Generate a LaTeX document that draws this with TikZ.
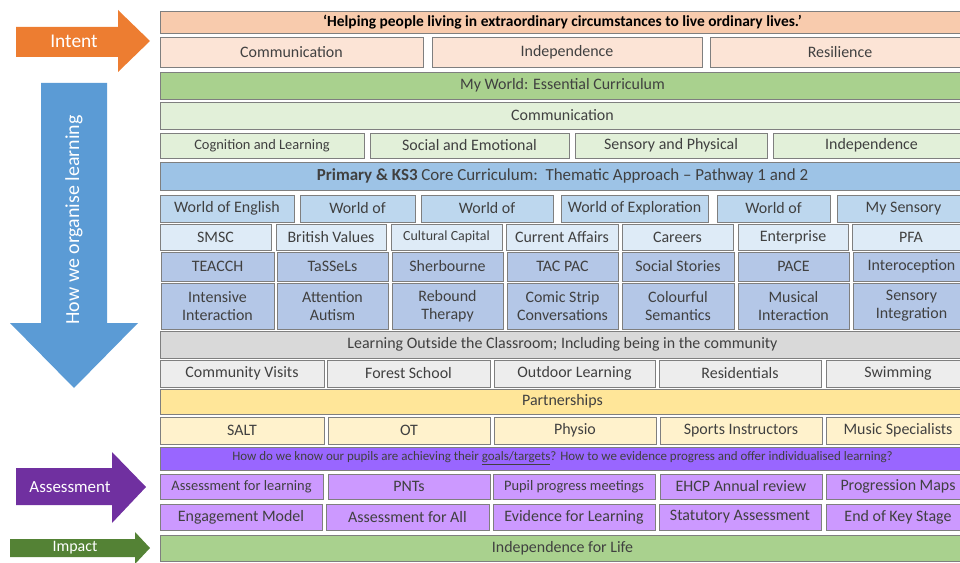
\documentclass[tikz,border=0pt]{standalone}
\usepackage{fontspec}
\setmainfont{Carlito}
\usetikzlibrary{positioning}

\definecolor{peach}{HTML}{F8CBAD}
\definecolor{peachL}{HTML}{FCE4D6}
\definecolor{greenD}{HTML}{A9D18E}
\definecolor{greenL}{HTML}{E2F0D9}
\definecolor{blueD}{HTML}{9DC3E6}
\definecolor{blueM}{HTML}{BDD7EE}
\definecolor{blueL}{HTML}{DEEBF7}
\definecolor{blueA}{HTML}{B4C7E7}
\definecolor{greyD}{HTML}{D9D9D9}
\definecolor{greyL}{HTML}{EDEDED}
\definecolor{goldD}{HTML}{FFE699}
\definecolor{goldL}{HTML}{FFF2CC}
\definecolor{violetD}{HTML}{9966FF}
\definecolor{violetL}{HTML}{CC99FF}
\definecolor{intentC}{HTML}{ED7D31}
\definecolor{organC}{HTML}{5B9BD5}
\definecolor{assessC}{HTML}{7030A0}
\definecolor{impactC}{HTML}{548235}
\definecolor{edge}{HTML}{7F7F7F}
\definecolor{ink}{HTML}{404040}

\begin{document}
\begin{tikzpicture}[x=1bp, y=-1bp,
	box/.style={draw=edge, line width=0.9bp, inner sep=1bp, outer sep=0pt, align=center, text=ink, font=\fontsize{16}{18}\selectfont},
	band/.style={box, anchor=north west, minimum width=805bp},
	smalltext/.style={font=\fontsize{14.5}{16}\selectfont},
	tinytext/.style={font=\fontsize{13}{15}\selectfont},
	arrowtext/.style={text=white, font=\fontsize{19.5}{22}\selectfont},
	intentbox/.style={box, fill=peachL, minimum height=30bp},
	need/.style={box, fill=greenL, minimum height=25bp},
	world/.style={box, fill=blueM, minimum height=27bp},
	thread/.style={box, fill=blueL, minimum height=26bp},
	appr/.style={box, fill=blueA, minimum height=29bp},
	visit/.style={box, fill=greyL, minimum height=27bp},
	partner/.style={box, fill=goldL, minimum height=27bp},
	assess/.style={box, fill=violetL, minimum height=25bp},
]
\useasboundingbox (0,0) rectangle (960,563);

% arrows on the left
\fill[intentC] (16,27) -- (118,27) -- (118,10) -- (150,41) -- (118,72) -- (118,57) -- (16,57) -- cycle;
\node[arrowtext] (intent) at (74,41) {Intent};
\fill[organC] (41,83) -- (107,83) -- (107,323) -- (138,323) -- (74,388) -- (10,323) -- (41,323) -- cycle;
\node[arrowtext, rotate=90, font=\fontsize{20}{22}\selectfont] (organise) at (74,220) {How we organise learning};
\fill[assessC] (16,468) -- (112,468) -- (112,452) -- (146,487) -- (112,523) -- (112,505) -- (16,505) -- cycle;
\node[arrowtext, font=\fontsize{17}{20}\selectfont] (assessment) at (70,487) {Assessment};
\fill[impactC] (10,539) -- (135,539) -- (135,532) -- (150,548) -- (135,564) -- (135,557) -- (10,557) -- cycle;
\node[arrowtext, font=\fontsize{16}{19}\selectfont] (impact) at (75,548) {Impact};

% intent
\node[band, fill=peach, minimum height=22bp, text=black, font=\bfseries\fontsize{15.5}{17}\selectfont] (quote) at (160,11) {`Helping people living in extraordinary circumstances to live ordinary lives.'};
\node[intentbox, minimum width=263bp, anchor=north west]	(comm)		at (160,37)	{Communication};
\node[intentbox, minimum width=270bp, right=9bp of comm]	(indep)					{Independence};
\node[intentbox, minimum width=260bp, right=8bp of indep]	(resil)					{Resilience};

% essential curriculum
\node[band, fill=greenD, minimum height=27bp]	(myworld)	at (160,72)		{My World: Essential Curriculum};
\node[band, fill=greenL, minimum height=27bp]	(commcur)	at (160,102)	{Communication};
\node[need, smalltext, minimum width=204bp, anchor=north west]	(cogn)	at (160,133)	{Cognition and Learning};
\node[need, minimum width=199bp, right=6bp of cogn]		(semh)		{Social and Emotional};
\node[need, minimum width=192bp, right=6bp of semh]		(sens)		{Sensory and Physical};
\node[need, minimum width=197bp, right=6bp of sens]		(indcur)	{Independence};

% core curriculum
\node[band, fill=blueD, minimum height=28bp, font=\fontsize{17}{19}\selectfont] (core) at (160,162) {\textbf{Primary \& KS3} Core Curriculum:\ \ Thematic Approach -- Pathway 1 and 2};
\node[world, minimum width=134bp, anchor=north west]	(woEng)	at (160,195)	{World of English};
\node[world, minimum width=115bp, right=6bp of woEng]	(woB)		{World of};
\node[world, minimum width=132bp, right=6bp of woB]		(woC)		{World of};
\node[world, minimum width=147bp, right=8bp of woC]		(woExp)		{World of Exploration};
\node[world, minimum width=113bp, right=9bp of woExp]	(woE)		{World of};
\node[world, minimum width=133bp, right=7bp of woE]		(mySens)	{My Sensory};

\node[thread, minimum width=111bp, anchor=north west]	(smsc)	at (160,224)	{SMSC};
\node[thread, minimum width=110bp, right=5bp of smsc]	(brit)		{British Values};
\node[thread, font=\fontsize{14}{16}\selectfont, minimum width=111bp, right=5bp of brit]	(cult)	{Cultural Capital};
\node[thread, minimum width=112bp, right=4bp of cult]	(curr)		{Current Affairs};
\node[thread, minimum width=111bp, right=4bp of curr]	(care)		{Careers};
\node[thread, minimum width=110bp, right=5bp of care]	(entr)		{Enterprise};
\node[thread, minimum width=118bp, right=4bp of entr]	(pfa)		{PFA};

\node[appr, minimum width=113bp, anchor=north west]	(teacch)	at (161,252)	{TEACCH};
\node[appr, minimum width=111bp, right=3bp of teacch]	(tassels)	{TaSSeLs};
\node[appr, minimum width=111bp, right=4bp of tassels]	(sherb)		{Sherbourne};
\node[appr, minimum width=111bp, right=4bp of sherb]	(tacpac)	{TAC PAC};
\node[appr, minimum width=112bp, right=4bp of tacpac]	(social)	{Social Stories};
\node[appr, minimum width=111bp, right=4bp of social]	(pace)		{PACE};
\node[appr, minimum width=117bp, right=4bp of pace]		(intero)	{Interoception};

\node[appr, minimum width=113bp, minimum height=46bp, below=2bp of teacch]	(intens)	{Intensive\\Interaction};
\node[appr, minimum width=111bp, minimum height=46bp, below=2bp of tassels]	(attn)		{Attention\\Autism};
\node[appr, minimum width=111bp, minimum height=46bp, below=2bp of sherb]	(rebound)	{Rebound\\Therapy};
\node[appr, minimum width=111bp, minimum height=46bp, below=2bp of tacpac]	(comic)		{Comic Strip\\Conversations};
\node[appr, minimum width=112bp, minimum height=46bp, below=2bp of social]	(colour)	{Colourful\\Semantics};
\node[appr, minimum width=111bp, minimum height=46bp, below=2bp of pace]	(musical)	{Musical\\Interaction};
\node[appr, minimum width=117bp, minimum height=46bp, below=2bp of intero]	(sensint)	{Sensory\\Integration};

% learning outside the classroom
\node[band, fill=greyD, minimum height=27bp]	(lotc)	at (160,331)	{Learning Outside the Classroom; Including being in the community};
\node[visit, minimum width=164bp, anchor=north west]	(commvis)	at (160,360)	{Community Visits};
\node[visit, minimum width=163bp, right=3bp of commvis]	(forest)	{Forest School};
\node[visit, minimum width=161bp, right=4bp of forest]	(outdoor)	{Outdoor Learning};
\node[visit, minimum width=162bp, right=4bp of outdoor]	(resid)		{Residentials};
\node[visit, minimum width=144bp, right=5bp of resid]	(swim)		{Swimming};

% partnerships
\node[band, fill=goldD, minimum height=25bp]	(partners)	at (160,389)	{Partnerships};
\node[partner, minimum width=164bp, anchor=north west]	(salt)	at (160,417)	{SALT};
\node[partner, minimum width=162bp, right=4bp of salt]	(ot)		{OT};
\node[partner, minimum width=162bp, right=4bp of ot]	(physio)	{Physio};
\node[partner, minimum width=162bp, right=4bp of physio]	(sports)	{Sports Instructors};
\node[partner, minimum width=144bp, right=4bp of sports]	(music)		{Music Specialists};

% assessment
\node[band, tinytext, fill=violetD, minimum height=23bp]	(howknow)	at (160,447)	{How do we know our pupils are achieving their \underline{goals/targets}? How to we evidence progress and offer individualised learning?};
\node[assess, smalltext, minimum width=163bp, anchor=north west]	(afl)	at (160,474)	{Assessment for learning};
\node[assess, minimum width=162bp, right=5bp of afl]	(pnts)		{PNTs};
\node[assess, smalltext, minimum width=162bp, right=3bp of pnts]	(ppm)	{Pupil progress meetings};
\node[assess, minimum width=162bp, right=5bp of ppm]	(ehcp)		{EHCP Annual review};
\node[assess, minimum width=144bp, right=4bp of ehcp]	(progmap)	{Progression Maps};

\node[assess, minimum height=26bp, minimum width=162bp, anchor=north west]	(engage)	at (160,504)	{Engagement Model};
\node[assess, minimum height=26bp, minimum width=163bp, right=4bp of engage]	(afa)		{Assessment for All};
\node[assess, minimum height=26bp, minimum width=162bp, right=4bp of afa]		(efl)		{Evidence for Learning};
\node[assess, minimum height=26bp, minimum width=162bp, right=4bp of efl]		(statut)	{Statutory Assessment};
\node[assess, minimum height=26bp, minimum width=144bp, right=5bp of statut]	(endks)		{End of Key Stage};

% impact
\node[band, fill=greenD, minimum height=26bp]	(life)	at (160,535)	{Independence for Life};

\end{tikzpicture}
\end{document}
